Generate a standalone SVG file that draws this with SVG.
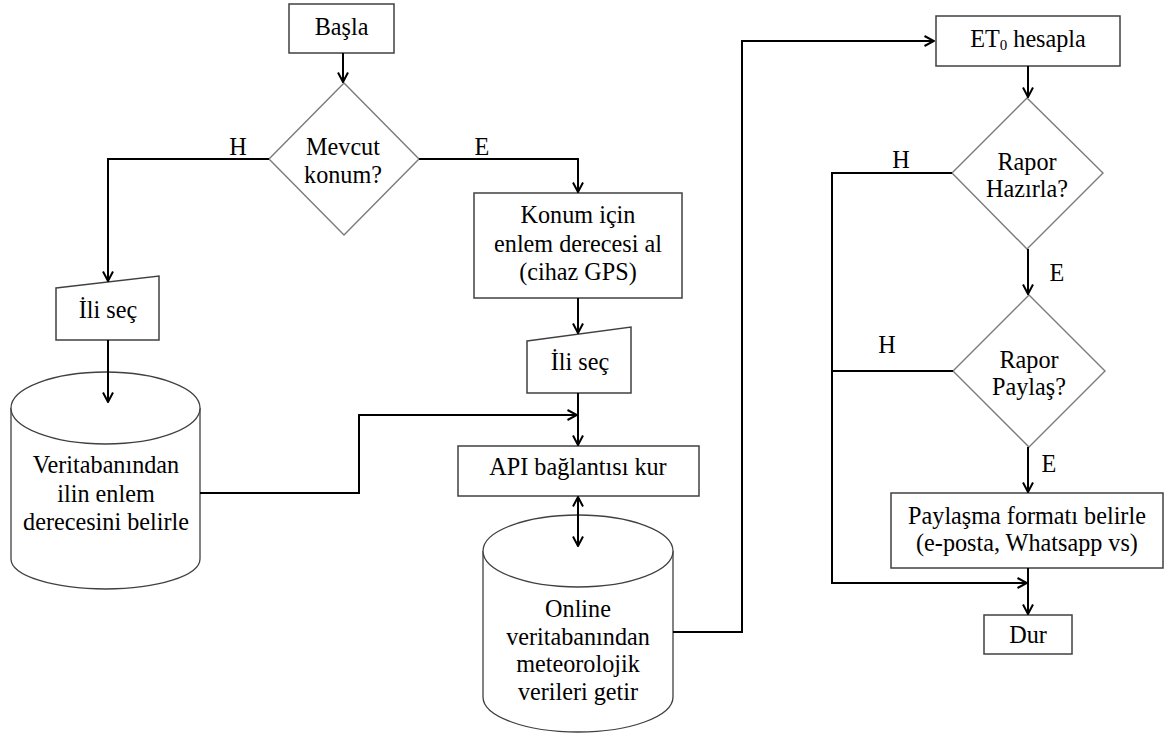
<svg xmlns="http://www.w3.org/2000/svg" width="1171" height="738" viewBox="0 0 1171 738">
<style>
.box{fill:#fff;stroke:#404040;stroke-width:1.5}
.dia{fill:#fff;stroke:#7a7a7a;stroke-width:1.4}
.cyl{fill:#fff;stroke:#404040;stroke-width:1.3}
.t{font-family:'Liberation Serif','Times New Roman',serif;font-size:24.2px;fill:#000;text-anchor:middle}
.c{fill:none;stroke:#000;stroke-width:2}
</style>
<defs>
<marker id="arr" viewBox="0 0 12 12" refX="11" refY="6" markerWidth="12" markerHeight="12" orient="auto-start-reverse" markerUnits="userSpaceOnUse">
<path d="M1.5,1 L11,6 L1.5,11" fill="none" stroke="#000" stroke-width="2"/>
</marker>
</defs>
<rect width="1171" height="738" fill="#fff"/>
<g id="basla">
<rect class="box" x="289" y="4" width="105" height="49"/>
<text class="t" x="341.5" y="35">Başla</text>
</g>
<g id="mevcut">
<polygon class="dia" points="344,83 419,159 344,235 269,159"/>
<text class="t" x="343" y="155">Mevcut</text>
<text class="t" x="343" y="183">konum?</text>
<text class="t" x="238" y="155">H</text>
<text class="t" x="482" y="155">E</text>
</g>
<g id="ilisec1">
<polygon class="box" points="56,288 159,276 159,340 56,340"/>
<text class="t" x="108" y="318">İli seç</text>
</g>
<g id="veritabani">
<path class="cyl" d="M11,408 V559 A94.5,30 0 0 0 200,559 V408"/>
<ellipse class="cyl" cx="105.5" cy="408" rx="94.5" ry="36"/>
<text class="t" x="106" y="473">Veritabanından</text>
<text class="t" x="106" y="502">ilin enlem</text>
<text class="t" x="106" y="530">derecesini belirle</text>
</g>
<g id="konum">
<rect class="box" x="474" y="193" width="208" height="105"/>
<text class="t" x="578" y="223">Konum için</text>
<text class="t" x="578" y="252">enlem derecesi al</text>
<text class="t" x="578" y="280">(cihaz GPS)</text>
</g>
<g id="ilisec2">
<polygon class="box" points="527,341 631,327 631,393 527,393"/>
<text class="t" x="580" y="370">İli seç</text>
</g>
<g id="api">
<rect class="box" x="458" y="446" width="241" height="50"/>
<text class="t" x="578" y="475">API bağlantısı kur</text>
</g>
<g id="online">
<path class="cyl" d="M483,551 V697 A95,35 0 0 0 673,697 V551"/>
<ellipse class="cyl" cx="578" cy="551" rx="95" ry="36"/>
<text class="t" x="578" y="617">Online</text>
<text class="t" x="578" y="645">veritabanından</text>
<text class="t" x="578" y="672">meteorolojik</text>
<text class="t" x="578" y="700">verileri getir</text>
</g>
<g id="et0">
<rect class="box" x="936" y="16" width="184" height="50"/>
<text class="t" x="1028" y="47">ET<tspan font-size="15" dy="3">0</tspan><tspan dy="-3"> hesapla</tspan></text>
</g>
<g id="rapor-hazirla">
<polygon class="dia" points="1027,98 1103,173 1027,249 952,173"/>
<text class="t" x="1027" y="170">Rapor</text>
<text class="t" x="1027" y="197">Hazırla?</text>
<text class="t" x="901" y="168">H</text>
<text class="t" x="1057" y="281">E</text>
</g>
<g id="rapor-paylas">
<polygon class="dia" points="1029,295 1105,371 1029,447 953,371"/>
<text class="t" x="1029" y="368">Rapor</text>
<text class="t" x="1029" y="395">Paylaş?</text>
<text class="t" x="887" y="353">H</text>
<text class="t" x="1049" y="472">E</text>
</g>
<g id="paylasma">
<rect class="box" x="891" y="493" width="272" height="75"/>
<text class="t" x="1027" y="524">Paylaşma formatı belirle</text>
<text class="t" x="1027" y="551">(e-posta, Whatsapp vs)</text>
</g>
<g id="dur">
<rect class="box" x="984" y="615" width="88" height="39"/>
<text class="t" x="1028" y="643">Dur</text>
</g>
<g id="connectors">
<path class="c" d="M343,53 V82" marker-end="url(#arr)"/>
<path class="c" d="M269,159 H108 V281" marker-end="url(#arr)"/>
<path class="c" d="M419,159 H578 V192" marker-end="url(#arr)"/>
<path class="c" d="M108,340 V402" marker-end="url(#arr)"/>
<path class="c" d="M578,298 V333" marker-end="url(#arr)"/>
<path class="c" d="M578,393 V445" marker-end="url(#arr)"/>
<path class="c" d="M200,493 H359 V415 H577" marker-end="url(#arr)"/>
<path class="c" d="M578,497 V546" marker-start="url(#arr)" marker-end="url(#arr)"/>
<path class="c" d="M673,632 H742 V41 H934" marker-end="url(#arr)"/>
<path class="c" d="M1028,66 V97" marker-end="url(#arr)"/>
<path class="c" d="M1028,249 V294" marker-end="url(#arr)"/>
<path class="c" d="M952,173 H832 V583 H1027" marker-end="url(#arr)"/>
<path class="c" d="M953,371 H832"/>
<path class="c" d="M1028,447 V492" marker-end="url(#arr)"/>
<path class="c" d="M1028,568 V614" marker-end="url(#arr)"/>
</g>
</svg>
